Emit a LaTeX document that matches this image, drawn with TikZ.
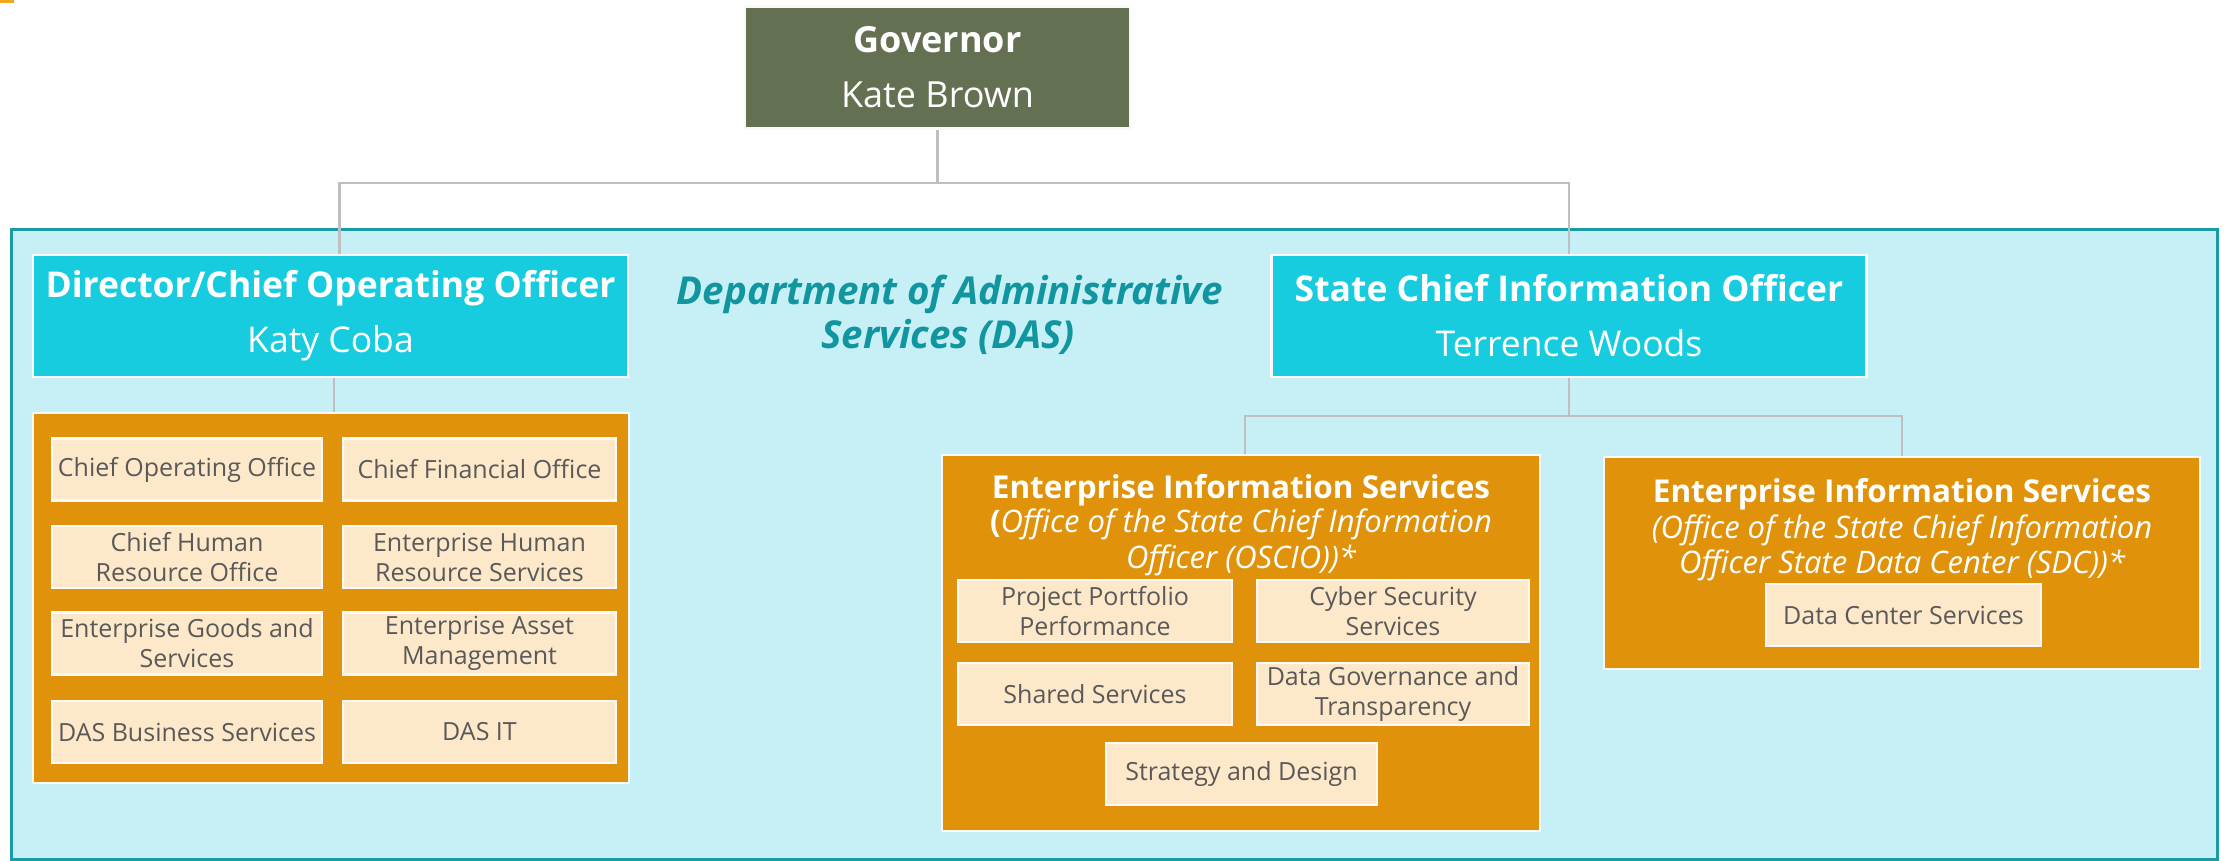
\documentclass[tikz,border=0pt]{standalone}
\usepackage{fontspec}
\setmainfont{Open Sans}
\usetikzlibrary{calc}
\definecolor{govfill}{HTML}{647052}
\definecolor{cyanbox}{HTML}{17CCDF}
\definecolor{dasbg}{HTML}{C6F0F6}
\definecolor{dasline}{HTML}{1A9BA8}
\definecolor{orangebox}{HTML}{E0930A}
\definecolor{subfill}{HTML}{FDE9CA}
\definecolor{subtext}{HTML}{595959}
\definecolor{connline}{HTML}{BFBFBF}
\definecolor{dastext}{HTML}{11969F}
\definecolor{markorange}{HTML}{F4A620}
\begin{document}
\begin{tikzpicture}[x=1pt,y=-1pt,
  box/.style={draw=white!95!gray, line width=2.5pt, inner sep=0pt, align=center},
  govbox/.style={box, fill=govfill, text=white, font=\fontsize{36}{55}\selectfont},
  headbox/.style={box, fill=cyanbox, text=white, minimum width=595, minimum height=122,
     font=\fontsize{35.5}{55}\selectfont},
  orgbox/.style={box, fill=orangebox},
  subbox/.style={box, fill=subfill, text=subtext, minimum height=62,
     font=\fontsize{25}{30}\selectfont},
  conn/.style={draw=connline, line width=2.5pt},
  ttl/.style={anchor=base, text=white, inner sep=0pt, font=\fontsize{31.5}{34}\selectfont\bfseries},
  itl/.style={anchor=base, text=white, inner sep=0pt, font=\fontsize{31}{34}\selectfont\itshape},
  daslbl/.style={anchor=base, text=dastext, inner sep=0pt, font=\fontsize{38.5}{43}\selectfont\bfseries\itshape}
]
\useasboundingbox (0,0) rectangle (2228,861);
\fill[white] (0,0) rectangle (2228,861);
\fill[markorange] (0,0) rectangle (14,3);
% DAS background
\draw[draw=dasline, fill=dasbg, line width=3pt] (11,229.5) rectangle (2217,859.5);

% Governor
\node[govbox, minimum width=385, minimum height=122] (gov) at (937.5,67.5)
  {\textbf{Governor}\\Kate Brown};

% Heads
\node[headbox] (dir) at (330.5,316) {\textbf{Director/Chief Operating Officer}\\Katy Coba};
\node[headbox] (scio) at (1569,316) {\textbf{State Chief Information Officer}\\Terrence Woods};

% DAS label
\node[daslbl] (das1) at (950,305) {Department of Administrative};
\node[daslbl] (das2) at (948,348) {Services (DAS)};

% connectors top
\coordinate (j1) at (938,183);
\draw[conn] (gov.south) -- (gov.south |- j1);
\draw[conn] ($(dir.north)+(9,0)$) |- (scio.north |- j1) -- (scio.north);

% Left orange box
\node[orgbox, minimum width=596, minimum height=370] (lbox) at (331,598) {};
\draw[conn] ($(dir.south)+(3.5,0)$) -- ($(lbox.north)+(3,0)$);

\node[subbox, minimum width=270] (s11) at (187,469.5) {Chief Operating Office};
\node[subbox, minimum width=273] (s12) at (479.5,469.5) {Chief Financial Office};
\node[subbox, minimum width=270] (s21) at (187,557) {Chief Human\\Resource Office};
\node[subbox, minimum width=273] (s22) at (479.5,557) {Enterprise Human\\Resource Services};
\node[subbox, minimum width=270] (s31) at (187,643.5) {Enterprise Goods and\\Services};
\node[subbox, minimum width=273] (s32) at (479.5,643.5) {Enterprise Asset\\Management};
\node[subbox, minimum width=270] (s41) at (187,732) {DAS Business Services};
\node[subbox, minimum width=273] (s42) at (479.5,732) {DAS IT};

% Right boxes
\node[orgbox, minimum width=598, minimum height=376] (obox) at (1241,643) {};
\node[orgbox, minimum width=596, minimum height=212] (sbox) at (1902,563) {};
\coordinate (j2) at (1569,416);
\draw[conn] (scio.south) -- (j2);
\draw[conn] ($(obox.north)+(4,0)$) |- (sbox.north |- j2) -- (sbox.north);

\node[ttl] (ot1) at (1241,498) {Enterprise Information Services};
\node[itl] (ot2) at (1241,532) {\textbf{\upshape(}Office of the State Chief Information};
\node[itl] (ot3) at (1241,568) {Officer (OSCIO))*};

\node[subbox, minimum width=274] (o11) at (1095,611) {Project Portfolio\\Performance};
\node[subbox, minimum width=272] (o12) at (1393,611) {Cyber Security\\Services};
\node[subbox, minimum width=274] (o21) at (1095,694) {Shared Services};
\node[subbox, minimum width=272] (o22) at (1393,694) {Data Governance and\\Transparency};
\node[subbox, minimum width=271] (o31) at (1241.5,774) {Strategy and Design};

\node[ttl] (st1) at (1902,502) {Enterprise Information Services};
\node[itl] (st2) at (1902,538) {(Office of the State Chief Information};
\node[itl] (st3) at (1902,573) {Officer State Data Center (SDC))*};
\node[subbox, minimum width=275] (d1) at (1903.5,615) {Data Center Services};
\end{tikzpicture}
\end{document}
